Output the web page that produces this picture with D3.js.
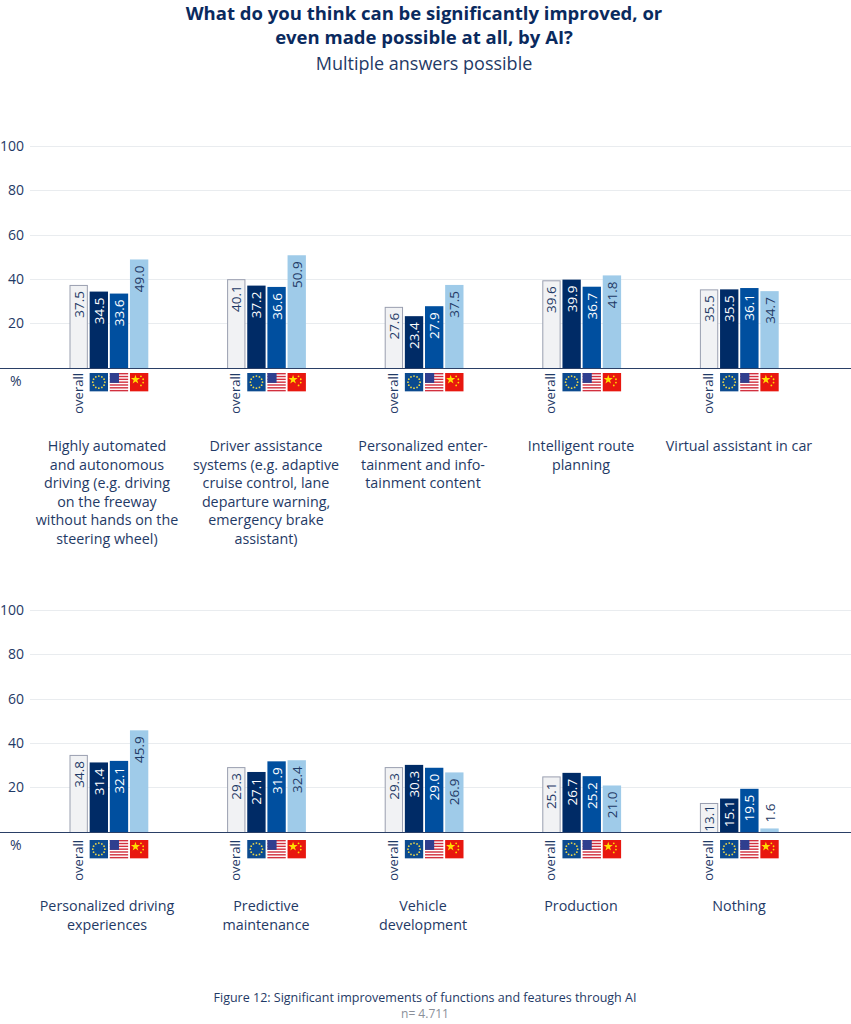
<!DOCTYPE html>
<html><head><meta charset="utf-8">
<script src="https://cdnjs.cloudflare.com/ajax/libs/d3/7.8.5/d3.min.js"></script>
<style>html,body{margin:0;padding:0;background:#fff}svg{display:block}text{font-family:"Open Sans","Noto Sans",sans-serif}</style>
</head><body><svg id="c" width="851" height="1024"></svg>
<script>
const titleLines = ["What do you think can be significantly improved, or","even made possible at all, by AI?"];
const subtitle = "Multiple answers possible";
const yTicks = [20,40,60,80,100];
const seriesKeys = ["overall","eu","us","cn"];
const categoriesTop = [
 ["Highly automated","and autonomous","driving (e.g. driving","on the freeway","without hands on the","steering wheel)"],
 ["Driver assistance","systems (e.g. adaptive","cruise control, lane","departure warning,","emergency brake","assistant)"],
 ["Personalized enter-","tainment and info-","tainment content"],
 ["Intelligent route","planning"],
 ["Virtual assistant in car"]];
const categoriesBottom = [
 ["Personalized driving","experiences"],
 ["Predictive","maintenance"],
 ["Vehicle","development"],
 ["Production"],
 ["Nothing"]];
const valuesTop = [[37.5,34.5,33.6,49.0],[40.1,37.2,36.6,50.9],[27.6,23.4,27.9,37.5],[39.6,39.9,36.7,41.8],[35.5,35.5,36.1,34.7]];
const valuesBottom = [[34.8,31.4,32.1,45.9],[29.3,27.1,31.9,32.4],[29.3,30.3,29.0,26.9],[25.1,26.7,25.2,21.0],[13.1,15.1,19.5,1.6]];
const footer = "Figure 12: Significant improvements of functions and features through AI";
const nLabel = "n= 4.711";

const navy="#0a2a5e", ink="#1f3a66";
const fills={overall:"#f1f2f4",eu:"#002b66",us:"#004f9f",cn:"#9fcbe9"};
const textFill={overall:ink,eu:"#fff",us:"#fff",cn:ink};
const svg=d3.select("#c");

svg.selectAll("text.t").data(titleLines).join("text").attr("class","t").attr("x",424).attr("y",(d,i)=>20+i*24)
 .attr("text-anchor","middle").attr("font-size",18.5).attr("font-weight",700).attr("fill",navy).text(d=>d);
svg.append("text").attr("x",424).attr("y",70).attr("text-anchor","middle").attr("font-size",18).attr("font-weight",400).attr("fill",ink).text(subtitle);

function flag(g,key,s){
 if(key==="eu"){
  g.append("rect").attr("width",s).attr("height",s).attr("fill","#0b4a8f");
  d3.range(12).forEach(i=>{const a=i*Math.PI/6;g.append("circle").attr("cx",s/2+Math.cos(a)*s*.33).attr("cy",s/2+Math.sin(a)*s*.33).attr("r",.9).attr("fill","#e8d44a");});
 } else if(key==="us"){
  g.append("rect").attr("width",s).attr("height",s).attr("fill","#fff");
  d3.range(0,7).forEach(i=>g.append("rect").attr("y",i*2*s/13).attr("width",s).attr("height",s/13).attr("fill","#d2303f"));
  g.append("rect").attr("width",s*.5).attr("height",s*7/13).attr("fill","#2f3f8f");
 } else {
  g.append("rect").attr("width",s).attr("height",s).attr("fill","#e8170f");
  g.append("path").attr("transform",`translate(${s*.3},${s*.36})`).attr("d",d3.symbol(d3.symbolStar,26)()).attr("fill","#ffde00");
  [[.6,.18],[.72,.34],[.72,.52],[.6,.68]].forEach(p=>g.append("circle").attr("cx",s*p[0]).attr("cy",s*p[1]).attr("r",.9).attr("fill","#ffde00"));
 }
}

function panel(values,cats,y0,labelX,flagGap,labelGap){
 const y=d3.scaleLinear().domain([0,100]).range([y0,y0-221.5]);
 const gx=d3.scaleBand().domain(d3.range(5)).range([69.5,69.5+157.6*5]);
 const bx=d3.scaleBand().domain(seriesKeys).range([0,78.8]).paddingInner(0.09);
 const g=svg.append("g");
 const ax=d3.axisLeft(y).tickValues(yTicks).tickSize(0).tickPadding(6);
 const a=g.append("g").attr("transform","translate(30,0)").call(ax);
 a.select(".domain").remove();
 a.selectAll("text").attr("font-size",14).attr("fill",ink).attr("x",-6).attr("dy","0.28em");
 g.selectAll("line.grid").data(yTicks).join("line").attr("class","grid").attr("x1",30).attr("x2",851)
  .attr("y1",d=>Math.floor(y(d))+.5).attr("y2",d=>Math.floor(y(d))+.5).attr("stroke","#e9ecef").attr("stroke-width",1);
 values.forEach((vals,i)=>{
  const gg=g.append("g").attr("transform",`translate(${gx(i)},0)`);
  vals.forEach((v,j)=>{
   const k=seriesKeys[j],x=bx(k),w=bx.bandwidth();
   gg.append("rect").attr("x",k==="overall"?x+.5:x).attr("y",y(v)+(k==="overall"?.5:0)).attr("width",k==="overall"?w-1:w).attr("height",y(0)-y(v))
    .attr("fill",fills[k]).attr("stroke",k==="overall"?"#9a9fb0":"none").attr("stroke-width",1);
   const low=v<5, barH=y(0)-y(v);
   gg.append("text").attr("transform",`translate(${x+w/2+5},${low?y(v)-6:y(v)+(barH<35?2:6)}) rotate(-90)`)
    .attr("text-anchor",low?"start":"end").attr("font-size",13.5)
    .attr("fill",textFill[k]).text(v.toFixed(1));
   if(k==="overall"){
    gg.append("text").attr("transform",`translate(${x+w/2+4},${y0+flagGap}) rotate(-90)`).attr("text-anchor","end")
     .attr("font-size",13).attr("fill",ink).text("overall");
   } else {
    flag(gg.append("g").attr("transform",`translate(${x},${y0+flagGap})`),k,w);
   }
  });
  const lab=g.append("text").attr("text-anchor","middle").attr("font-size",14.3).attr("fill",ink);
  cats[i].forEach((line,l)=>lab.append("tspan").attr("x",labelX[i]).attr("y",y0+labelGap+l*18.6).text(line));
 });
 g.append("line").attr("x1",0).attr("x2",851).attr("y1",y0+.5).attr("y2",y0+.5).attr("stroke","#2a3f66").attr("stroke-width",1.2);
 g.append("text").attr("x",10).attr("y",y0+18).attr("font-size",14).attr("fill",ink).text("%");
}
panel(valuesTop,categoriesTop,368,[107,266,423,581,739],5,83);
panel(valuesBottom,categoriesBottom,832,[107,266,423,581,739],8,79);

svg.append("text").attr("x",425).attr("y",1002).attr("text-anchor","middle").attr("font-size",12.5).attr("fill",ink).text(footer);
svg.append("text").attr("x",425).attr("y",1018).attr("text-anchor","middle").attr("font-size",12).attr("fill","#8a8f99").text(nLabel);
</script></body></html>
